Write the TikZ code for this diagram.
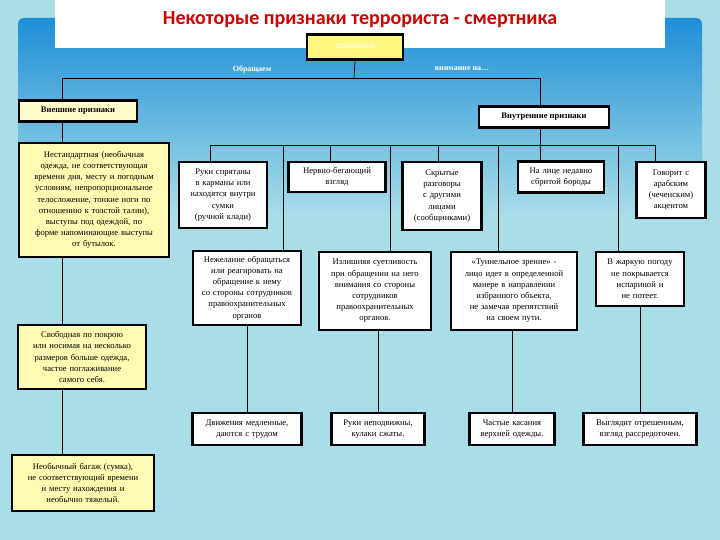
\documentclass[tikz,border=0pt]{standalone}
\usepackage{fontspec}
\setmainfont{Liberation Serif}
\newfontfamily\titlefont{Carlito}
\begin{document}
\begin{tikzpicture}[x=1pt,y=-1pt,
 box/.style={draw=black,line width=2.6pt,fill=white,align=center,inner sep=1pt,font=\fontsize{8.6}{11.2}\selectfont},
 ybox/.style={box,fill=yellow!30},
 ln/.style={line width=0.7pt}]
\definecolor{bg}{HTML}{A9DEE9}
\definecolor{panel}{HTML}{1E8ED6}
\useasboundingbox (0,0) rectangle (720,540);
\fill[bg] (0,0) rectangle (720,540);
\shade[top color=panel,bottom color=bg,rounded corners=6pt] (18,18) rectangle (702,215);
\fill[white] (55,0) rectangle (665,48);
\node[font=\titlefont\bfseries\fontsize{20}{24}\selectfont,text=red!80!black] (title) at (360,20) {Некоторые признаки террориста - смертника};
\node[box,fill=yellow!50,draw=black,text=white,minimum width=96,minimum height=25,font=\fontsize{10}{11}\selectfont] (p) at (355,47) {признаки};
\node[text=white,font=\bfseries\fontsize{8}{9}\selectfont] (l1) at (252,69) {Обращаем};
\node[text=white,font=\bfseries\fontsize{8}{9}\selectfont] (l2) at (462,69) {внимание на…};
\coordinate (hl) at (62,78); \coordinate (hr) at (540,78);
\draw[ln] (p.south) -- (354,78);
\draw[ln] (hl) -- (hr);
\node[ybox,fill=yellow!20,minimum width=118,minimum height=21,font=\bfseries\fontsize{8.5}{9}\selectfont] (ext) at (78,111) {Внешние признаки};
\node[box,minimum width=130,minimum height=21,font=\bfseries\fontsize{8.5}{9}\selectfont] (int) at (544,117) {Внутренние признаки};
\draw[ln] (hr) -- (int.north -| hr);
% left column
\node[ybox,text width=148,minimum height=114] (a1) at (94,200) {Нестандартная (необычная\\одежда, не соответствующая\\времени дня, месту и погодным\\условиям, непропорциональное\\телосложение, тонкие ноги по\\отношению к толстой талии),\\выступы под одеждой, по\\форме напоминающие выступы\\от бутылок.};
\node[ybox,text width=126,minimum height=64] (a2) at (82,357) {Свободная по покрою\\или носимая на несколько\\размеров больше одежда,\\частое поглаживание\\самого себя.};
\node[ybox,text width=140,minimum height=56] (a3) at (83,483) {Необычный багаж (сумка),\\не соответствующий времени\\и месту нахождения и\\необычно тяжелый.};
\draw[ln] (hl) -- (ext.north -| hl);
\draw[ln] (ext.south -| hl) -- (a1.north -| hl);
\draw[ln] (a1.south -| hl) -- (a2.north -| hl);
\draw[ln] (a2.south -| hl) -- (a3.north -| hl);
% right
\coordinate (rl) at (210,145); \coordinate (rr) at (655,145);
\draw[ln] (int.south -| hr) -- (540,145);
\draw[ln] (rl) -- (rr);
\node[box,text width=86,minimum height=66] (A) at (223,195) {Руки спрятаны\\в карманы или\\находятся внутри\\сумки\\(ручной клади)};
\node[box,text width=95,minimum height=30] (B) at (337,177) {Нервно-бегающий\\взгляд};
\node[box,text width=77,minimum height=68] (C) at (442,196) {Скрытые\\разговоры\\с другими\\лицами\\(сообщниками)};
\node[box,text width=84,minimum height=31] (D) at (561,177) {На лице недавно\\сбритой бороды};
\node[box,text width=67,minimum height=56] (E) at (671,190) {Говорит с\\арабским\\(чеченским)\\акцентом};
\node[box,text width=106,minimum height=74] (F) at (247,288) {Нежелание обращаться\\или реагировать на\\обращение к нему\\со стороны сотрудников\\правоохранительных\\органов};
\node[box,text width=110,minimum height=78] (G) at (375,291) {Излишняя суетливость\\при обращении на него\\внимания со стороны\\сотрудников\\правоохранительных\\органов.};
\node[box,text width=124,minimum height=78] (H) at (514,291) {«Туннельное зрение» -\\лицо идет в определенной\\манере в направлении\\избранного объекта,\\не замечая препятствий\\на своем пути.};
\node[box,text width=86,minimum height=54] (I) at (640,279) {В жаркую погоду\\не покрывается\\испариной и\\не потеет.};
\node[box,text width=107,minimum height=32] (J) at (247,429) {Движения медленные,\\даются с трудом};
\node[box,text width=91,minimum height=32] (K) at (378,429) {Руки неподвижны,\\кулаки сжаты.};
\node[box,text width=83,minimum height=32] (L) at (512,429) {Частые касания\\верхней одежды.};
\node[box,text width=111,minimum height=32] (M) at (640,429) {Выглядит отрешенным,\\взгляд рассредоточен.};
\draw[ln] (rl) -- (A.north -| rl);
\draw[ln] (330,145) -- (B.north -| 330,0);
\draw[ln] (438,145) -- (C.north -| 438,0);
\draw[ln] (540,145) -- (D.north -| 540,0);
\draw[ln] (rr) -- (E.north -| rr);
\draw[ln] (283,145) -- (F.north -| 283,0);
\draw[ln] (390,145) -- (G.north -| 390,0);
\draw[ln] (498,145) -- (H.north -| 498,0);
\draw[ln] (618,145) -- (I.north -| 618,0);
\draw[ln] (F.south) -- (J.north);
\draw[ln] (G.south -| K.north) -- (K.north);
\draw[ln] (H.south -| L.north) -- (L.north);
\draw[ln] (I.south) -- (M.north);
\end{tikzpicture}
\end{document}
